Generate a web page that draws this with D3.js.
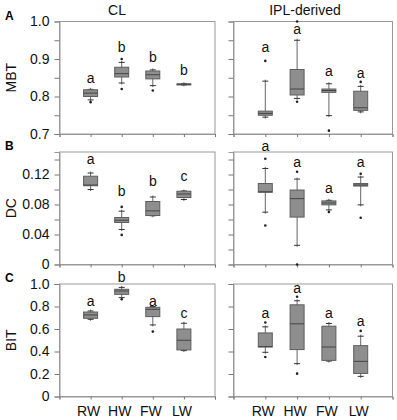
<!DOCTYPE html>
<html>
<head>
<meta charset="utf-8">
<script src="https://cdn.jsdelivr.net/npm/d3@7"></script>
<style>
  body { margin: 0; background: #fff; }
  text { font-family: "Liberation Sans", Arial, sans-serif; }
</style>
</head>
<body>
<div id="chart"></div>
<script>
// categories
const groups = ["RW", "HW", "FW", "LW"];

// box stats per group: [lowWhisker, q1, median, q3, highWhisker]
const mbtCL = [[0.791, 0.800, 0.809, 0.818, 0.819], [0.836, 0.852, 0.861, 0.878, 0.891], [0.829, 0.847, 0.858, 0.868, 0.871], [0.831, 0.8325, 0.833, 0.8335, 0.834]];
const mbtIPL = [[0.745, 0.750, 0.755, 0.761, 0.841], [0.795, 0.804, 0.820, 0.872, 0.950], [0.749, 0.811, 0.816, 0.820, 0.834], [0.759, 0.763, 0.770, 0.814, 0.827]];
const dcCL = [[0.100, 0.105, 0.106, 0.1177, 0.122], [0.0467, 0.056, 0.059, 0.0627, 0.0711], [0.065, 0.0653, 0.0715, 0.084, 0.090], [0.0867, 0.0893, 0.094, 0.0977, 0.098]];
const dcIPL = [[0.0698, 0.0963, 0.097, 0.108, 0.128], [0.0256, 0.0632, 0.0878, 0.0993, 0.1139], [0.0728, 0.0795, 0.082, 0.0848, 0.0856], [0.0795, 0.1046, 0.106, 0.108, 0.1166]];
const bitCL = [[0.686, 0.695, 0.725, 0.751, 0.760], [0.879, 0.908, 0.938, 0.953, 0.970], [0.636, 0.710, 0.775, 0.793, 0.800], [0.408, 0.414, 0.500, 0.600, 0.651]];
const bitIPL = [[0.393, 0.440, 0.443, 0.565, 0.619], [0.292, 0.417, 0.646, 0.815, 0.851], [0.315, 0.321, 0.440, 0.625, 0.649], [0.179, 0.205, 0.3125, 0.452, 0.536]];

// outliers per group
const mbtCLOut = [[0.785], [0.900, 0.820], [0.816], []];
const mbtIPLOut = [[0.895], [1.0, 0.786], [0.709], [0.839]];
const dcCLOut = [[], [0.0768, 0.0395], [], []];
const dcIPLOut = [[0.141, 0.052], [0.1236, 0.0], [0.070], [0.121, 0.0623]];
const bitCLOut = [[], [0.864], [0.577], []];
const bitIPLOut = [[0.658, 0.351], [0.887, 0.203], [], [0.583]];

// significance letters and the value they sit at
const mbtCLLetters = ["a", "b", "b", "b"], mbtCLLetterAt = [0.837, 0.920, 0.893, 0.857];
const mbtIPLLetters = ["a", "a", "a", "a"], mbtIPLLetterAt = [0.919, 0.966, 0.855, 0.850];
const dcCLLetters = ["a", "b", "b", "c"], dcCLLetterAt = [0.1337, 0.0911, 0.1044, 0.1115];
const dcIPLLetters = ["a", "a", "a", "a"], dcIPLLetterAt = [0.152, 0.130, 0.0958, 0.130];
const bitCLLetters = ["a", "b", "a", "c"], bitCLLetterAt = [0.805, 1.015, 0.805, 0.701];
const bitIPLLetters = ["a", "a", "a", "a"], bitIPLLetterAt = [0.699, 0.917, 0.699, 0.625];

// axis ticks
const mbtTicks = [0.7, 0.75, 0.8, 0.85, 0.9, 0.95, 1.0], mbtLabels = [0.7, 0.8, 0.9, 1.0];
const dcTicks = [0, 0.02, 0.04, 0.06, 0.08, 0.1, 0.12, 0.14], dcLabels = [0, 0.04, 0.08, 0.12];
const bitTicks = [0, 0.2, 0.4, 0.6, 0.8, 1.0], bitLabels = [0, 0.2, 0.4, 0.6, 0.8, 1.0];

const width = 397, height = 420;
const svg = d3.select("#chart").append("svg")
	.attr("width", width)
	.attr("height", height);

const cols = [[59.5, 215], [233.5, 392.5]];
const rows = [[21.5, 134], [152, 264.5], [284, 396.5]];

const boxFill = "#8e8e8e", boxStroke = "#5e5e5e", frameColor = "#999";

const drawPanel = (col, row, opt) => {
	const x = d3.scaleLinear().domain([0, 5]).range(cols[col]);
	const y = d3.scaleLinear().domain(opt.domain).range([rows[row][1], rows[row][0]]);
	const g = svg.append("g");

	// frame
	g.append("rect")
		.attr("x", cols[col][0]).attr("y", rows[row][0])
		.attr("width", cols[col][1] - cols[col][0])
		.attr("height", rows[row][1] - rows[row][0])
		.attr("fill", "none")
		.attr("stroke", frameColor)
		.attr("stroke-width", 1);

	// left axis
	const yAxis = d3.axisLeft(y)
		.tickValues(opt.ticks)
		.tickSize(5)
		.tickPadding(5)
		.tickFormat(v => (col === 0 && opt.labels.some(l => Math.abs(l - v) < 1e-9)) ? opt.fmt(v) : "");
	const ya = g.append("g")
		.attr("transform", `translate(${cols[col][0]},0)`)
		.call(yAxis);
	ya.select(".domain").attr("stroke", frameColor);
	ya.selectAll(".tick line").attr("stroke", "#777");
	ya.selectAll(".tick text")
		.attr("font-size", 14)
		.attr("fill", "#111")
		.style("font-family", "'Liberation Sans', Arial, sans-serif");

	// bottom axis
	const xAxis = d3.axisBottom(x)
		.tickValues([0, 1, 2, 3, 4, 5])
		.tickSize(3)
		.tickFormat("");
	const xa = g.append("g")
		.attr("transform", `translate(0,${rows[row][1]})`)
		.call(xAxis);
	xa.select(".domain").attr("stroke", frameColor);
	xa.selectAll(".tick line").attr("stroke", "#777");

	const bw = 14, cw = 6;
	const boxes = g.selectAll(".bx")
		.data(opt.box).enter()
		.append("g")
		.attr("class", "bx");

	// whiskers
	boxes.append("line")
		.attr("x1", (d, i) => x(i + 1)).attr("x2", (d, i) => x(i + 1))
		.attr("y1", d => y(d[4]) - 1.5).attr("y2", d => y(d[0]) + 1.5)
		.attr("stroke", "#666").attr("stroke-width", 1);
	// caps
	[0, 4].forEach(k => {
		boxes.append("line")
			.attr("x1", (d, i) => x(i + 1) - cw / 2).attr("x2", (d, i) => x(i + 1) + cw / 2)
			.attr("y1", d => y(d[k])).attr("y2", d => y(d[k]))
			.attr("stroke", "#333").attr("stroke-width", 1);
	});
	// box
	boxes.append("rect")
		.attr("x", (d, i) => x(i + 1) - bw / 2)
		.attr("width", bw)
		.attr("y", d => y(d[3]))
		.attr("height", d => Math.max(1, y(d[1]) - y(d[3])))
		.attr("fill", boxFill)
		.attr("stroke", boxStroke)
		.attr("stroke-width", 1);
	// median
	boxes.append("line")
		.attr("x1", (d, i) => x(i + 1) - bw / 2).attr("x2", (d, i) => x(i + 1) + bw / 2)
		.attr("y1", d => y(d[2])).attr("y2", d => y(d[2]))
		.attr("stroke", "#444").attr("stroke-width", 1);

	// outliers
	opt.out.forEach((pts, i) => {
		g.selectAll(null)
			.data(pts).enter()
			.append("circle")
			.attr("cx", x(i + 1))
			.attr("cy", v => y(v))
			.attr("r", 1.3)
			.attr("fill", "#222");
	});

	// letters
	g.selectAll(".letter")
		.data(opt.letters).enter()
		.append("text")
		.attr("class", "letter")
		.attr("x", (d, i) => x(i + 1))
		.attr("y", (d, i) => y(opt.letterAt[i]))
		.attr("text-anchor", "middle")
		.attr("font-size", 14)
		.attr("fill", "#111")
		.text(d => d);

	return x;
};

const fmt1 = d3.format(".1f");
const fmtDC = v => v === 0 ? "0" : d3.format(".2f")(v);
const fmtBIT = v => v === 0 ? "0" : d3.format(".1f")(v);

drawPanel(0, 0, { domain: [0.7, 1.0], ticks: mbtTicks, labels: mbtLabels, fmt: fmt1, box: mbtCL, out: mbtCLOut, letters: mbtCLLetters, letterAt: mbtCLLetterAt });
drawPanel(1, 0, { domain: [0.7, 1.0], ticks: mbtTicks, labels: mbtLabels, fmt: fmt1, box: mbtIPL, out: mbtIPLOut, letters: mbtIPLLetters, letterAt: mbtIPLLetterAt });
drawPanel(0, 1, { domain: [0, 0.15], ticks: dcTicks, labels: dcLabels, fmt: fmtDC, box: dcCL, out: dcCLOut, letters: dcCLLetters, letterAt: dcCLLetterAt });
drawPanel(1, 1, { domain: [0, 0.15], ticks: dcTicks, labels: dcLabels, fmt: fmtDC, box: dcIPL, out: dcIPLOut, letters: dcIPLLetters, letterAt: dcIPLLetterAt });
const xL = drawPanel(0, 2, { domain: [0, 1.0], ticks: bitTicks, labels: bitLabels, fmt: fmtBIT, box: bitCL, out: bitCLOut, letters: bitCLLetters, letterAt: bitCLLetterAt });
const xR = drawPanel(1, 2, { domain: [0, 1.0], ticks: bitTicks, labels: bitLabels, fmt: fmtBIT, box: bitIPL, out: bitIPLOut, letters: bitIPLLetters, letterAt: bitIPLLetterAt });

// category labels under the bottom row
[xL, xR].forEach(x => {
	svg.selectAll(null)
		.data(groups).enter()
		.append("text")
		.attr("x", (d, i) => x(i + 1) - 2)
		.attr("y", 416)
		.attr("text-anchor", "middle")
		.attr("font-size", 14)
		.attr("fill", "#111")
		.text(d => d);
});

// column titles
svg.append("text").attr("x", 117).attr("y", 15).attr("text-anchor", "middle")
	.attr("font-size", 14).attr("fill", "#111").text("CL");
svg.append("text").attr("x", 305).attr("y", 15).attr("text-anchor", "middle")
	.attr("font-size", 14).attr("fill", "#111").text("IPL-derived");

// y titles and panel letters
const yTitles = ["MBT", "DC", "BIT"];
const panelTags = ["A", "B", "C"];
rows.forEach((r, i) => {
	const cy = (r[0] + r[1]) / 2;
	svg.append("text")
		.attr("transform", `translate(16,${cy}) rotate(-90)`)
		.attr("text-anchor", "middle")
		.attr("font-size", 14)
		.attr("fill", "#111")
		.text(yTitles[i]);
	svg.append("text")
		.attr("x", 5)
		.attr("y", r[0] - 2)
		.attr("font-size", 12)
		.attr("font-weight", "bold")
		.attr("fill", "#000")
		.text(panelTags[i]);
});
</script>
</body>
</html>
